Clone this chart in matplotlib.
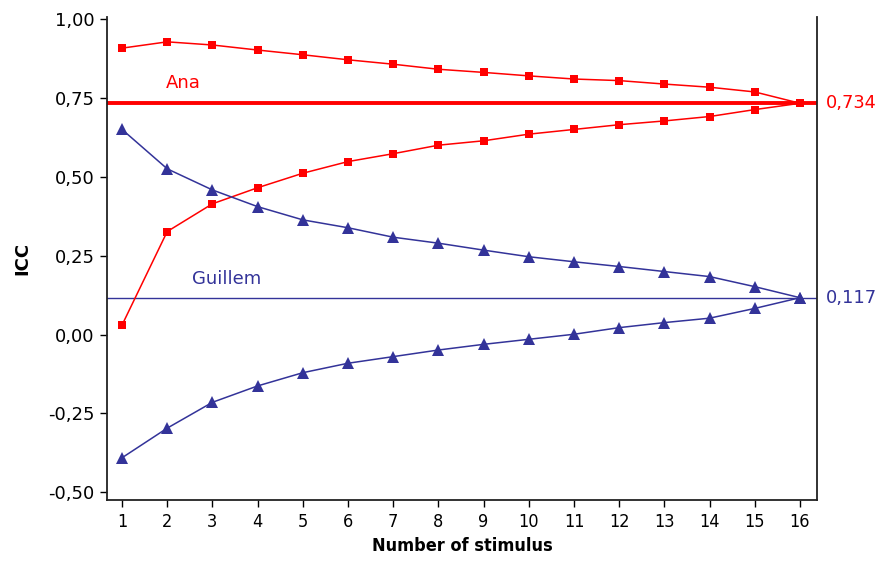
import matplotlib
matplotlib.use("Agg")
import matplotlib.pyplot as plt

# Number of stimuli used
stimulus = list(range(1, 17))

# ICC envelopes for Ana (upper / lower bound) and her overall value
ana_upper = [0.909, 0.929, 0.919, 0.903, 0.888, 0.872, 0.858, 0.842,
             0.832, 0.821, 0.811, 0.806, 0.795, 0.785, 0.770, 0.734]
ana_lower = [0.030, 0.327, 0.415, 0.466, 0.512, 0.549, 0.574, 0.601,
             0.615, 0.636, 0.651, 0.666, 0.678, 0.692, 0.714, 0.734]
ana_icc = 0.734

# ICC envelopes for Guillem and his overall value
guillem_upper = [0.651, 0.526, 0.459, 0.406, 0.364, 0.339, 0.309, 0.290,
                 0.268, 0.247, 0.231, 0.216, 0.200, 0.184, 0.152, 0.117]
guillem_lower = [-0.391, -0.297, -0.215, -0.163, -0.121, -0.091, -0.070, -0.049,
                 -0.031, -0.015, 0.001, 0.022, 0.038, 0.052, 0.083, 0.117]
guillem_icc = 0.117

yticks = [-0.50, -0.25, 0.00, 0.25, 0.50, 0.75, 1.00]

RED = "#FF0000"
BLUE = "#333399"

fig = plt.figure(figsize=(8.8, 5.63), dpi=100)
ax = fig.add_axes([0.1216, 0.1119, 0.8068, 0.858])

# Reference lines for the overall ICC of each rater
ax.axhline(ana_icc, color=RED, lw=2.8, zorder=2)
ax.axhline(guillem_icc, color=BLUE, lw=1.0, zorder=2)

for ys in (ana_upper, ana_lower):
    ax.plot(stimulus, ys, color=RED, lw=1.1, marker="s", ms=6.0,
            markeredgewidth=0, zorder=3)
for ys in (guillem_upper, guillem_lower):
    ax.plot(stimulus, ys, color=BLUE, lw=1.1, marker="^", ms=8.5,
            markeredgewidth=0, zorder=3)

ax.text(2.35, 0.798, "Ana", color=RED, fontsize=13, ha="center", va="center")
ax.text(3.32, 0.176, "Guillem", color=BLUE, fontsize=13, ha="center", va="center")

def comma(v, nd):
    return f"{v:.{nd}f}".replace(".", ",")

ax.text(1.012, ana_icc, comma(ana_icc, 3), color=RED, fontsize=12.8,
        ha="left", va="center", transform=ax.get_yaxis_transform())
ax.text(1.012, guillem_icc, comma(guillem_icc, 3), color=BLUE, fontsize=12.8,
        ha="left", va="center", transform=ax.get_yaxis_transform())

ax.set_xlim(0.668, 16.376)
ax.set_ylim(-0.525, 1.008)
ax.set_xticks(stimulus)
ax.set_xticklabels([str(s) for s in stimulus], fontsize=13,
                   fontstretch="condensed")
ax.set_yticks(yticks)
ax.set_yticklabels([comma(v, 2) for v in yticks], fontsize=13)

ax.tick_params(direction="out", length=5, width=1, color="black", pad=4)
ax.spines["top"].set_visible(False)
for s in ("left", "bottom", "right"):
    ax.spines[s].set_linewidth(1.3)
    ax.spines[s].set_color("#222222")

ax.set_xlabel("Number of stimulus", fontsize=13, fontweight="bold",
              fontstretch="condensed", labelpad=5)
ax.set_ylabel("ICC", fontsize=13, fontweight="bold", labelpad=12)

fig.savefig("out.png", dpi=100)
